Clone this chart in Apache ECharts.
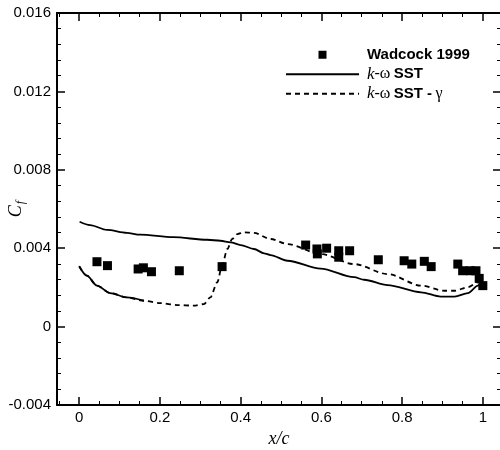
<!DOCTYPE html>
<html>
<head>
<meta charset="utf-8">
<script src="https://cdn.jsdelivr.net/npm/echarts@6/dist/echarts.min.js"></script>
<style>
  html, body { margin: 0; padding: 0; background: #fff; }
  #chart { width: 500px; height: 450px; }
</style>
</head>
<body>
<div id="chart"></div>
<script>
// Wadcock 1999 experiment
const wadcockX = [0.044, 0.070, 0.146, 0.159, 0.179, 0.248, 0.354, 0.561, 0.589, 0.590, 0.613, 0.643, 0.643, 0.670,
  0.741, 0.805, 0.824, 0.855, 0.872, 0.938, 0.950, 0.969, 0.983, 0.991, 1.0];
const wadcockCf = [0.00331, 0.00311, 0.00294, 0.00300, 0.00280, 0.00285, 0.00306, 0.00416, 0.00396, 0.00371, 0.00400, 0.00387, 0.00354, 0.00387,
  0.00341, 0.00336, 0.00319, 0.00333, 0.00306, 0.00319, 0.00285, 0.00285, 0.00285, 0.00246, 0.00209];

// k-omega SST
const sstX = [0.001, 0.027, 0.069, 0.118, 0.151, 0.233, 0.317, 0.350, 0.375, 0.400, 0.433, 0.458, 0.474, 0.516,
  0.598, 0.681, 0.706, 0.764, 0.847, 0.896, 0.930, 0.963, 0.988, 0.998];
const sstCf = [0.00535, 0.00518, 0.00493, 0.00478, 0.00469, 0.00456, 0.00443, 0.00438, 0.00430, 0.00416, 0.00396, 0.00374, 0.00365, 0.00336,
  0.00296, 0.00252, 0.00239, 0.00212, 0.00175, 0.00153, 0.00153, 0.00171, 0.00209, 0.00235];

// k-omega SST - gamma
const gammaX = [0.0, 0.019, 0.044, 0.077, 0.118, 0.160, 0.201, 0.243, 0.284, 0.309, 0.325, 0.342, 0.354, 0.367,
  0.379, 0.392, 0.408, 0.433, 0.474, 0.516, 0.598, 0.681, 0.764, 0.847, 0.905, 0.930, 0.963, 0.988, 0.997];
const gammaCf = [0.00308, 0.00260, 0.00209, 0.00171, 0.00149, 0.00132, 0.00120, 0.00110, 0.00107, 0.00115, 0.00149, 0.00226, 0.00311, 0.00396,
  0.00447, 0.00472, 0.00481, 0.00478, 0.00447, 0.00421, 0.00370, 0.00319, 0.00268, 0.00209, 0.00183, 0.00183, 0.00201, 0.00226, 0.00245];
// near the leading edge the dashed curve looks solid (dense points)
const gammaSolidUntil = 0.16;

const xMajorTicks = [0, 0.2, 0.4, 0.6, 0.8, 1];
const xMinorTicks = [-0.05, 0.05, 0.1, 0.15, 0.25, 0.3, 0.35, 0.45, 0.5, 0.55, 0.65, 0.7, 0.75, 0.85, 0.9, 0.95, 1.05];

const names = ['Wadcock 1999', 'k-ω SST', 'k-ω SST - γ'];

const zip = (xs, ys) => xs.map((x, i) => [x, ys[i]]);
const gammaPts = zip(gammaX, gammaCf);

const chart = echarts.init(document.getElementById('chart'));

const axisLineStyle = { show: true, onZero: false, lineStyle: { color: '#000', width: 2 } };
const noLine = { show: false, onZero: false };
const xBase = {
  type: 'value', min: -0.055, max: 1.045,
  splitLine: { show: false },
  axisLine: axisLineStyle
};
const yBase = {
  type: 'value', min: -0.004, max: 0.016, interval: 0.004,
  splitLine: { show: false },
  axisLine: axisLineStyle,
  axisTick: { inside: true, length: 8, lineStyle: { color: '#000', width: 1.5 } },
  minorTick: { show: true, splitNumber: 5, length: 4, lineStyle: { color: '#000', width: 1 } }
};
const hideSymbol = { color: 'rgba(0,0,0,0)', borderWidth: 0, opacity: 0 };

chart.setOption({
  animation: false,
  backgroundColor: '#fff',
  grid: { left: 57, right: -1, top: 13, bottom: 45, outerBoundsMode: 'none', containLabel: false },
  legend: {
    data: [
      { name: names[0], icon: 'path://M0,0H10V10H0Z' },
      { name: names[1], itemStyle: hideSymbol },
      { name: names[2], itemStyle: hideSymbol }
    ],
    orient: 'vertical',
    left: 280,
    top: 41,
    itemWidth: 73,
    itemHeight: 8,
    itemGap: 2,
    selectedMode: false,
    formatter: function (name) {
      if (name === names[0]) return '{p| }{b|Wadcock 1999}';
      if (name === names[1]) return '{p| }{i|k}{s|-ω} {b|SST}';
      return '{p| }{i|k}{s|-ω} {b|SST -} {s|γ}';
    },
    textStyle: {
      color: '#000',
      lineHeight: 17.5,
      rich: {
        p: { width: 3 },
        b: { fontFamily: 'Liberation Sans', fontWeight: 'bold', fontSize: 15, color: '#000' },
        i: { fontFamily: 'Liberation Serif', fontStyle: 'italic', fontSize: 17, color: '#000' },
        s: { fontFamily: 'Liberation Serif', fontSize: 16, color: '#000' }
      }
    }
  },
  xAxis: [
    Object.assign({}, xBase, {
      position: 'bottom',
      name: 'x/c',
      nameLocation: 'middle',
      nameGap: 25,
      nameMoveOverlap: false,
      nameTextStyle: { fontFamily: 'Liberation Serif', fontStyle: 'italic', fontSize: 18, color: '#000' },
      axisTick: { inside: true, length: 8, customValues: xMajorTicks, lineStyle: { color: '#000', width: 1.5 } },
      axisLabel: { customValues: xMajorTicks, color: '#000', fontFamily: 'Liberation Sans', fontSize: 15, margin: 5 }
    }),
    Object.assign({}, xBase, {
      position: 'top',
      axisTick: { inside: true, length: 8, customValues: xMajorTicks, lineStyle: { color: '#000', width: 1.5 } },
      axisLabel: { show: false }
    }),
    Object.assign({}, xBase, {
      position: 'bottom',
      axisLine: noLine,
      axisTick: { inside: true, length: 4, customValues: xMinorTicks, lineStyle: { color: '#000', width: 1 } },
      axisLabel: { show: false }
    }),
    Object.assign({}, xBase, {
      position: 'top',
      axisLine: noLine,
      axisTick: { inside: true, length: 4, customValues: xMinorTicks, lineStyle: { color: '#000', width: 1 } },
      axisLabel: { show: false }
    })
  ],
  yAxis: [
    Object.assign({}, yBase, {
      position: 'left',
      name: '{c|C}{f|f}',
      nameLocation: 'middle',
      nameGap: 30,
      nameMoveOverlap: false,
      nameTextStyle: {
        rich: {
          c: { fontFamily: 'Liberation Serif', fontStyle: 'italic', fontSize: 18, color: '#000' },
          f: { fontFamily: 'Liberation Serif', fontStyle: 'italic', fontSize: 12, color: '#000', padding: [9, 0, 0, 1] }
        }
      },
      axisLabel: { color: '#000', fontFamily: 'Liberation Sans', fontSize: 15, margin: 6 }
    }),
    Object.assign({}, yBase, {
      position: 'right',
      axisLabel: { show: false }
    })
  ],
  series: [
    {
      name: names[0],
      type: 'scatter',
      data: zip(wadcockX, wadcockCf),
      symbol: 'rect',
      symbolSize: 9,
      itemStyle: { color: '#000', opacity: 1 },
      z: 5
    },
    {
      name: names[1],
      type: 'line',
      data: zip(sstX, sstCf),
      symbol: 'none',
      smooth: 0.3,
      smoothMonotone: 'x',
      lineStyle: { color: '#000', width: 1.8, type: 'solid' },
      itemStyle: { color: '#000' }
    },
    {
      name: names[2],
      type: 'line',
      data: gammaPts,
      symbol: 'none',
      smooth: 0.3,
      smoothMonotone: 'x',
      lineStyle: { color: '#000', width: 1.8, type: [5, 4] },
      itemStyle: { color: '#000' }
    },
    {
      name: 'gamma-lead',
      type: 'line',
      data: gammaPts.filter(p => p[0] <= gammaSolidUntil),
      symbol: 'none',
      smooth: 0.3,
      smoothMonotone: 'x',
      lineStyle: { color: '#000', width: 1.8, type: 'solid' },
      itemStyle: { color: '#000' }
    }
  ]
});
</script>
</body>
</html>
